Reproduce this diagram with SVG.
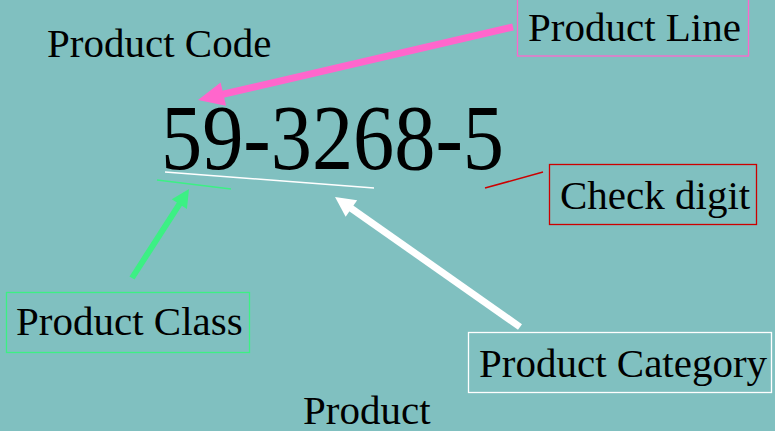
<svg xmlns="http://www.w3.org/2000/svg" width="775" height="431" viewBox="0 0 775 431">
<style>
text{font-family:"Liberation Serif","Times New Roman",serif;fill:#000}
.lbl{font-size:41px}
.big{font-size:93px}
.box{fill:none;stroke-width:1.3}
</style>
<defs>
<marker id="hPink" markerUnits="userSpaceOnUse" orient="auto" markerWidth="26" markerHeight="24" refX="6" refY="12" overflow="visible"><path d="M0,0 L26,12 L0,24 z" fill="#FF66CC"/></marker>
<marker id="hGreen" markerUnits="userSpaceOnUse" orient="auto" markerWidth="18" markerHeight="18" refX="4" refY="9" overflow="visible"><path d="M0,0 L18,9 L0,18 z" fill="#3CF084"/></marker>
<marker id="hWhite" markerUnits="userSpaceOnUse" orient="auto" markerWidth="20" markerHeight="20" refX="5" refY="10" overflow="visible"><path d="M0,0 L20,10 L0,20 z" fill="#FFFFFF"/></marker>
</defs>
<rect width="775" height="431" fill="#80C0C0"/>
<g id="title"><text class="lbl" x="47" y="57">Product Code</text></g>
<g id="code"><text class="big" x="161" y="169" textLength="343" lengthAdjust="spacingAndGlyphs">59-3268-5</text></g>
<g id="productLine"><rect class="box" x="517.5" y="-2" width="231" height="58" stroke="#FF66CC"/><text class="lbl" x="528" y="41">Product Line</text></g>
<g id="checkDigit"><rect class="box" x="549.5" y="164.5" width="207" height="60" stroke="#CC0000"/><text class="lbl" x="560" y="209">Check digit</text></g>
<g id="productClass"><rect class="box" x="6.5" y="292.5" width="243" height="60" stroke="#3CF084"/><text class="lbl" x="16" y="335">Product Class</text></g>
<g id="productCategory"><rect class="box" x="468.5" y="332.5" width="303" height="60" stroke="#FFFFFF"/><text class="lbl" x="479" y="377">Product Category</text></g>
<g id="product"><text class="lbl" x="303" y="424">Product</text></g>
<g id="connectors">
<line x1="165" y1="172" x2="374" y2="188" stroke="#FFFFFF" stroke-width="1.5"/>
<line x1="157" y1="180" x2="231" y2="189" stroke="#3CF084" stroke-width="1.5"/>
<line x1="485" y1="188" x2="543" y2="172" stroke="#CC0000" stroke-width="1.5"/>
<line x1="513" y1="27" x2="217.5" y2="95.5" stroke="#FF66CC" stroke-width="7" marker-end="url(#hPink)"/>
<line x1="132" y1="278" x2="181.5" y2="200.8" stroke="#3CF084" stroke-width="6" marker-end="url(#hGreen)"/>
<line x1="520" y1="327" x2="347.3" y2="205.6" stroke="#FFFFFF" stroke-width="7" marker-end="url(#hWhite)"/>
</g>
</svg>
